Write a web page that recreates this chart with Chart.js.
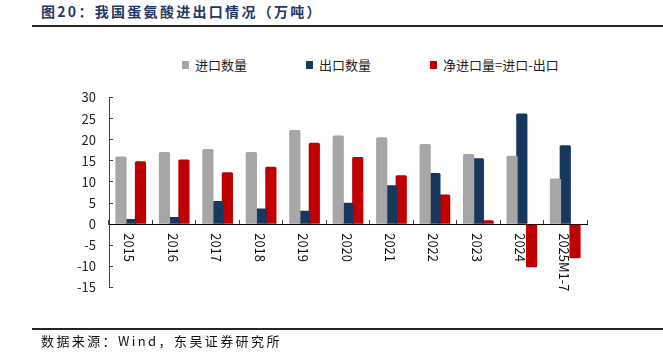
<!DOCTYPE html>
<html>
<head>
<meta charset="utf-8">
<script src="https://cdn.jsdelivr.net/npm/chart.js@4.4.1/dist/chart.umd.min.js"></script>
<style>
html,body{margin:0;padding:0;width:663px;height:356px;overflow:hidden;background:#fff;font-family:"Noto Sans CJK SC","Noto Sans",sans-serif;}
#wrap{position:relative;width:663px;height:356px;}
#c{position:absolute;left:0;top:0;}
.title{position:absolute;left:41px;top:1px;font-size:14px;font-weight:bold;color:#1f3864;letter-spacing:2.3px;line-height:20px;white-space:nowrap;}
.rule{position:absolute;left:32px;width:631px;height:2px;background:#262626;}
.src{position:absolute;left:41px;top:332px;font-size:13px;color:#111;letter-spacing:2.4px;line-height:18px;white-space:nowrap;}
#legend{position:absolute;left:182px;top:56px;display:flex;gap:59px;font-size:13px;color:#222;line-height:18px;}
#legend .it{display:flex;align-items:center;white-space:nowrap;}
#legend .sw{width:7px;height:8px;margin-right:6px;}
</style>
</head>
<body>
<div id="wrap">
  <div class="title">图20：我国蛋氨酸进出口情况（万吨）</div>
  <div class="rule" style="top:25px"></div>
  <div id="legend"></div>
  <canvas id="c" width="663" height="356"></canvas>
  <div class="rule" style="top:328px"></div>
  <div class="src">数据来源：Wind，东吴证券研究所</div>
</div>
<script>
const categories = ['2015','2016','2017','2018','2019','2020','2021','2022','2023','2024','2025M1-7'];
const importQty = [16.0, 17.1, 17.8, 17.1, 22.3, 21.0, 20.6, 19.0, 16.6, 16.2, 10.8];
const exportQty = [1.2, 1.7, 5.5, 3.7, 3.2, 5.1, 9.2, 12.1, 15.6, 26.2, 18.7];
const netImport = [14.9, 15.3, 12.3, 13.6, 19.3, 15.9, 11.6, 7.0, 0.95, -10.2, -8.1];
const seriesNames = ['进口数量', '出口数量', '净进口量=进口-出口'];
const seriesColors = ['#a6a6a6', '#17375e', '#c00000'];
const yMin = -15, yMax = 30, yStep = 5;

const FONT = '"Noto Sans CJK SC", "Noto Sans", sans-serif';

const xLabelPlugin = {
  id: 'xLabels',
  beforeDatasetsDraw(chart) {
    const {ctx, scales: {x, y}} = chart;
    const y0 = y.getPixelForValue(0);
    ctx.save();
    ctx.font = '13px ' + FONT;
    ctx.fillStyle = '#111';
    ctx.textAlign = 'left';
    ctx.textBaseline = 'middle';
    chart.data.labels.forEach((lab, i) => {
      const px = x.getPixelForTick(i);
      ctx.save();
      ctx.translate(px - 1.5, y0 + 9);
      ctx.rotate(Math.PI / 2);
      ctx.fillText(lab, 0, 0);
      ctx.restore();
    });
    ctx.restore();
  }
};

const chart = new Chart(document.getElementById('c'), {
  type: 'bar',
  data: {
    labels: categories,
    datasets: [
      {label: seriesNames[0], data: importQty, backgroundColor: seriesColors[0]},
      {label: seriesNames[1], data: exportQty, backgroundColor: seriesColors[1]},
      {label: seriesNames[2], data: netImport, backgroundColor: seriesColors[2]}
    ]
  },
  options: {
    responsive: false,
    animation: false,
    devicePixelRatio: 1,
    layout: {padding: {top: 97.5, right: 76, bottom: 68.5, left: 0}},
    datasets: {bar: {categoryPercentage: 0.673, barPercentage: 1.15, borderRadius: 1.5}},
    plugins: {legend: {display: false}, tooltip: {enabled: false}},
    scales: {
      x: {
        position: {y: 0},
        ticks: {display: false},
        grid: {offset: true, drawOnChartArea: false, tickLength: -5, color: '#404040'},
        border: {display: true, color: '#000', width: 1}
      },
      y: {
        min: yMin, max: yMax,
        ticks: {stepSize: yStep, color: '#222', padding: 17, font: {size: 13, family: FONT}},
        grid: {drawOnChartArea: false, tickLength: -4, color: '#404040'},
        border: {display: true, color: '#404040', width: 1},
        afterFit(s) { s.width = 109; }
      }
    }
  },
  plugins: [xLabelPlugin]
});

const lg = document.getElementById('legend');
chart.data.datasets.forEach(ds => {
  const it = document.createElement('div');
  it.className = 'it';
  const sw = document.createElement('span');
  sw.className = 'sw';
  sw.style.background = ds.backgroundColor;
  const tx = document.createElement('span');
  tx.textContent = ds.label;
  it.appendChild(sw); it.appendChild(tx);
  lg.appendChild(it);
});
</script>
</body>
</html>
